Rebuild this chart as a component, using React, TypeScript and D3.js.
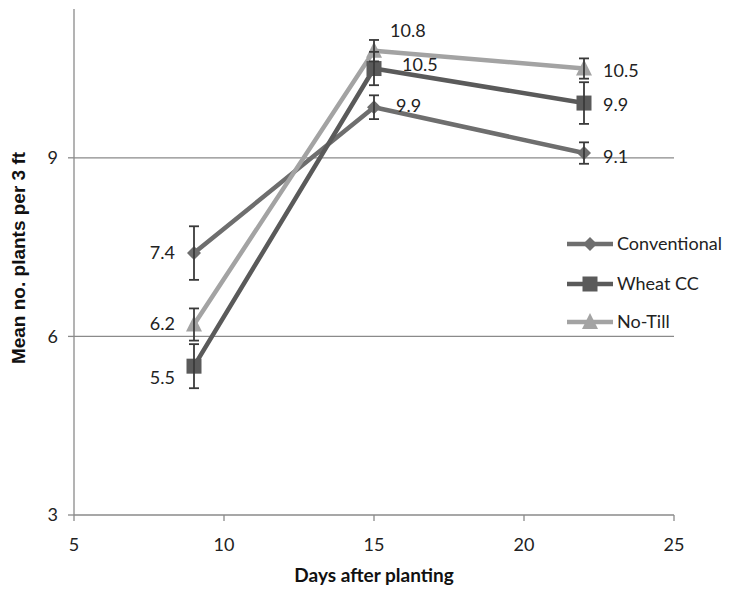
import React from "react";
import * as d3 from "d3";

const days = [9, 15, 22];
const seriesNames = ["Conventional", "Wheat CC", "No-Till"];
const conventional = [7.4, 9.85, 9.08];
const wheatCC = [5.5, 10.5, 9.92];
const noTill = [6.2, 10.8, 10.5];
const conventionalErr = [0.45, 0.2, 0.18];
const wheatCCErr = [0.37, 0.28, 0.35];
const noTillErr = [0.27, 0.18, 0.17];
const labelsConventional = ["7.4", "9.9", "9.1"];
const labelsWheatCC = ["5.5", "10.5", "9.9"];
const labelsNoTill = ["6.2", "10.8", "10.5"];
const xTicks = [5, 10, 15, 20, 25];
const yTicks = [3, 6, 9];

const W = 732, H = 590;
const FONT = "Lato, 'Open Sans', sans-serif";
const TITLE_FONT = "'Liberation Sans', Arial, sans-serif";

export default function App() {
  const x = d3.scaleLinear().domain([5, 25]).range([74, 674]);
  const y = d3.scaleLinear().domain([3, 11.5]).range([515, 9]);

  const series = [
    { name: seriesNames[0], vals: conventional, err: conventionalErr, labels: labelsConventional, color: "#6e6e6e", marker: "diamond",
      offs: [[-19, 0, "end"], [22, -2, "start"], [19, 4, "start"]] },
    { name: seriesNames[1], vals: wheatCC, err: wheatCCErr, labels: labelsWheatCC, color: "#5a5a5a", marker: "square",
      offs: [[-19, 12, "end"], [28, -4, "start"], [19, 2, "start"]] },
    { name: seriesNames[2], vals: noTill, err: noTillErr, labels: labelsNoTill, color: "#a3a3a3", marker: "triangle",
      offs: [[-19, -1, "end"], [16, -20, "start"], [19, 2, "start"]] },
  ];

  const line = d3.line<number>().x((_, i) => x(days[i])).y((v) => y(v));

  const marker = (type: string, cx: number, cy: number, color: string, key: string) => {
    if (type === "diamond") {
      const s = 7;
      return <path key={key} d={`M${cx},${cy - s}L${cx + s},${cy}L${cx},${cy + s}L${cx - s},${cy}Z`} fill={color} />;
    }
    if (type === "square") {
      const s = 7.5;
      return <rect key={key} x={cx - s} y={cy - s} width={2 * s} height={2 * s} fill={color} />;
    }
    const s = 8;
    return <path key={key} d={`M${cx},${cy - s - 1}L${cx + s},${cy + s - 1}L${cx - s},${cy + s - 1}Z`} fill={color} />;
  };

  const legendY = [244, 284, 322];

  return (
    <svg width={W} height={H} style={{ position: "absolute", left: 0, top: 0, background: "#fff" }}>
      {/* gridlines */}
      {yTicks.filter((t) => t !== 3).map((t) => (
        <line key={"g" + t} x1={x(5)} x2={x(25)} y1={y(t)} y2={y(t)} stroke="#8a8a8a" strokeWidth={1.3} />
      ))}
      {/* axes */}
      <line x1={x(5)} x2={x(5)} y1={y.range()[1]} y2={y(3)} stroke="#8a8a8a" strokeWidth={1.3} />
      <line x1={x(5)} x2={x(25)} y1={y(3)} y2={y(3)} stroke="#8a8a8a" strokeWidth={1.3} />
      {yTicks.map((t) => (
        <g key={"yt" + t}>
          <line x1={x(5) - 6} x2={x(5)} y1={y(t)} y2={y(t)} stroke="#8a8a8a" strokeWidth={1.3} />
          <text x={x(5) - 16} y={y(t)} dy="0.35em" textAnchor="end" fontFamily={FONT} fontSize={18} fill="#222">{t}</text>
        </g>
      ))}
      {xTicks.map((t) => (
        <g key={"xt" + t}>
          <line x1={x(t)} x2={x(t)} y1={y(3)} y2={y(3) + 6} stroke="#8a8a8a" strokeWidth={1.3} />
          <text x={x(t)} y={y(3) + 36} textAnchor="middle" fontFamily={FONT} fontSize={18} fill="#222">{t}</text>
        </g>
      ))}
      <text x={374} y={582} textAnchor="middle" fontFamily={FONT} fontSize={19} fontWeight="bold" fill="#111">Days after planting</text>
      <text transform="translate(25,258) rotate(-90)" textAnchor="middle" fontFamily={TITLE_FONT} fontSize={19} fontWeight="bold" fill="#111">Mean no. plants per 3 ft</text>

      {/* lines */}
      {series.map((s) => (
        <path key={"l" + s.name} d={line(s.vals) || ""} fill="none" stroke={s.color} strokeWidth={4.5} strokeLinejoin="round" />
      ))}
      {/* markers */}
      {series.map((s) => s.vals.map((v, i) => marker(s.marker, x(days[i]), y(v), s.color, s.name + "m" + i)))}
      {/* error bars */}
      {series.map((s) => s.vals.map((v, i) => {
        const cx = x(days[i]);
        const y1 = y(v + s.err[i]);
        const y2 = y(v - s.err[i]);
        return (
          <g key={s.name + "e" + i} stroke="#3a3a3a" strokeWidth={1.8}>
            <line x1={cx} x2={cx} y1={y1} y2={y2} />
            <line x1={cx - 5} x2={cx + 5} y1={y1} y2={y1} />
            <line x1={cx - 5} x2={cx + 5} y1={y2} y2={y2} />
          </g>
        );
      }))}
      {/* data labels */}
      {series.map((s) => s.vals.map((v, i) => (
        <text key={s.name + "t" + i} x={x(days[i]) + (s.offs[i][0] as number)} y={y(v) + (s.offs[i][1] as number)} dy="0.35em"
          textAnchor={s.offs[i][2] as any} fontFamily={FONT} fontSize={18} fill="#222">{s.labels[i]}</text>
      )))}
      {/* legend */}
      {series.map((s, i) => (
        <g key={"lg" + s.name}>
          <line x1={567} x2={613} y1={legendY[i]} y2={legendY[i]} stroke={s.color} strokeWidth={4.5} />
          {marker(s.marker, 590, legendY[i], s.color, "lm" + i)}
          <text x={617} y={legendY[i]} dy="0.35em" fontFamily={FONT} fontSize={18} fill="#222">{s.name}</text>
        </g>
      ))}
    </svg>
  );
}
